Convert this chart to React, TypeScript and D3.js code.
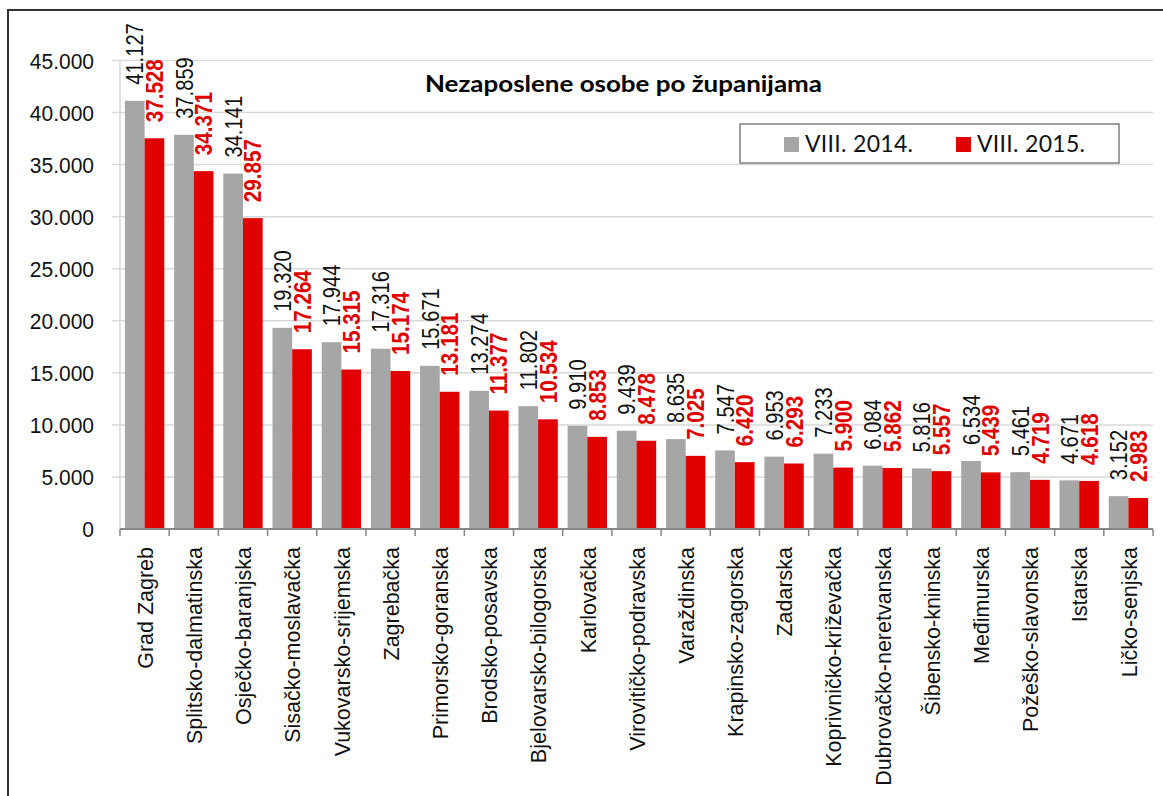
import * as d3 from "d3";
import { useEffect, useRef } from "react";

const counties = [
  "Grad Zagreb", "Splitsko-dalmatinska", "Osječko-baranjska", "Sisačko-moslavačka",
  "Vukovarsko-srijemska", "Zagrebačka", "Primorsko-goranska", "Brodsko-posavska",
  "Bjelovarsko-bilogorska", "Karlovačka", "Virovitičko-podravska", "Varaždinska",
  "Krapinsko-zagorska", "Zadarska", "Koprivničko-križevačka", "Dubrovačko-neretvanska",
  "Šibensko-kninska", "Međimurska", "Požeško-slavonska", "Istarska", "Ličko-senjska",
];
const aug2014 = [41127, 37859, 34141, 19320, 17944, 17316, 15671, 13274, 11802, 9910, 9439, 8635, 7547, 6953, 7233, 6084, 5816, 6534, 5461, 4671, 3152];
const aug2015 = [37528, 34371, 29857, 17264, 15315, 15174, 13181, 11377, 10534, 8853, 8478, 7025, 6420, 6293, 5900, 5862, 5557, 5439, 4719, 4618, 2983];
const seriesNames = ["VIII. 2014.", "VIII. 2015."];
const yTicks = [0, 5000, 10000, 15000, 20000, 25000, 30000, 35000, 40000, 45000];
const title = "Nezaposlene osobe po županijama";

const GREY = "#a6a6a6";
const RED = "#e00000";

export default function App() {
  const ref = useRef<SVGSVGElement>(null);

  useEffect(() => {
    const svg = d3.select(ref.current);
    svg.selectAll("*").remove();

    const left = 120, right = 1153, top = 60.5, bottom = 529;
    const fmt = d3.formatLocale({ decimal: ",", thousands: ".", grouping: [3], currency: ["", ""] }).format(",d");

    // frame
    svg.append("rect").attr("x", 8).attr("y", 10).attr("width", 1180).attr("height", 820)
      .attr("fill", "white").attr("stroke", "#333").attr("stroke-width", 2);

    const X = d3.scaleBand<string>().domain(counties).range([left, right])
      .paddingInner(0.2).paddingOuter(0.1);
    const X1 = d3.scaleBand<string>().domain(seriesNames).range([0, X.bandwidth()]);
    const Y = d3.scaleLinear().domain([0, 45000]).range([bottom, top]);

    // grid
    svg.append("g").selectAll("line").data(yTicks.slice(1)).join("line")
      .attr("x1", 112).attr("x2", right).attr("y1", d => Y(d)).attr("y2", d => Y(d))
      .attr("stroke", "#d9d9d9").attr("stroke-width", 1.5);

    // y axis
    svg.append("line").attr("x1", left).attr("x2", left).attr("y1", top).attr("y2", bottom)
      .attr("stroke", "#d9d9d9").attr("stroke-width", 1.5);
    svg.append("g").selectAll("text").data(yTicks).join("text")
      .attr("transform", d => `translate(94,${Y(d)}) scale(1,1.08)`)
      .attr("dy", "0.36em")
      .attr("text-anchor", "end").attr("font-family", "'Liberation Sans', Arial, sans-serif")
      .attr("font-size", 21).attr("fill", "#111").text(d => fmt(d));

    // bars
    const rows = counties.map((c, i) => ({ c, vals: [aug2014[i], aug2015[i]] }));
    const groups = svg.append("g").selectAll("g").data(rows).join("g")
      .attr("transform", d => `translate(${X(d.c)},0)`);

    groups.selectAll("rect").data(d => d.vals.map((v, k) => ({ v, k }))).join("rect")
      .attr("x", d => X1(seriesNames[d.k])!)
      .attr("width", X1.bandwidth())
      .attr("y", d => Y(d.v))
      .attr("height", d => Y(0) - Y(d.v))
      .attr("fill", d => (d.k === 0 ? GREY : RED));

    groups.selectAll("text").data(d => d.vals.map((v, k) => ({ v, k }))).join("text")
      .attr("transform", d => `translate(${X1(seriesNames[d.k])! + X1.bandwidth() / 2},${Y(d.v) - 16}) rotate(-90) scale(${d.k === 0 ? 0.84 : 0.86},1)`)
      .attr("dy", "0.36em")
      .attr("font-family", "'Liberation Sans', Arial, sans-serif")
      .attr("font-size", 24)
      .attr("font-weight", d => (d.k === 0 ? "normal" : "bold"))
      .attr("fill", d => (d.k === 0 ? "#111" : RED))
      .text(d => fmt(d.v));

    // x axis
    svg.append("line").attr("x1", left).attr("x2", right).attr("y1", bottom).attr("y2", bottom)
      .attr("stroke", "#868686").attr("stroke-width", 2);
    const step = X.step();
    svg.append("g").selectAll("line").data(d3.range(counties.length + 1)).join("line")
      .attr("x1", i => left + i * step).attr("x2", i => left + i * step)
      .attr("y1", bottom).attr("y2", bottom + 7)
      .attr("stroke", "#868686").attr("stroke-width", 1.5);

    svg.append("g").selectAll("text").data(counties).join("text")
      .attr("transform", d => `translate(${X(d)! + X.bandwidth() / 2},${bottom + 18}) rotate(-90) scale(1,1.06)`)
      .attr("dy", "0.36em").attr("text-anchor", "end")
      .attr("font-family", "'Liberation Sans', Arial, sans-serif")
      .attr("font-size", 21.5).attr("fill", "#111").text(d => d);

    // title
    svg.append("text").attr("x", 623.5).attr("y", 92).attr("text-anchor", "middle")
      .attr("font-family", "Lato, 'Open Sans', sans-serif").attr("font-weight", "bold")
      .attr("font-size", 23).attr("fill", "#000")
      .attr("textLength", 397).attr("lengthAdjust", "spacingAndGlyphs")
      .text(title);

    // legend
    const lg = svg.append("g");
    lg.append("rect").attr("x", 740).attr("y", 124).attr("width", 379).attr("height", 39)
      .attr("fill", "white").attr("stroke", "#808080").attr("stroke-width", 1.5);
    const items = lg.selectAll("g").data(seriesNames).join("g")
      .attr("transform", (d, i) => `translate(${784 + i * 172},137)`);
    items.append("rect").attr("width", 15).attr("height", 15).attr("fill", (d, i) => (i === 0 ? GREY : RED));
    items.append("text").attr("x", 21).attr("y", 15)
      .attr("font-family", "Lato, 'Open Sans', sans-serif").attr("font-size", 23)
      .attr("fill", "#111").attr("textLength", 108).attr("lengthAdjust", "spacing")
      .text(d => d);
  }, []);

  return (
    <svg ref={ref} width={1163} height={796}
      style={{ position: "absolute", left: 0, top: 0, background: "white" }} />
  );
}
